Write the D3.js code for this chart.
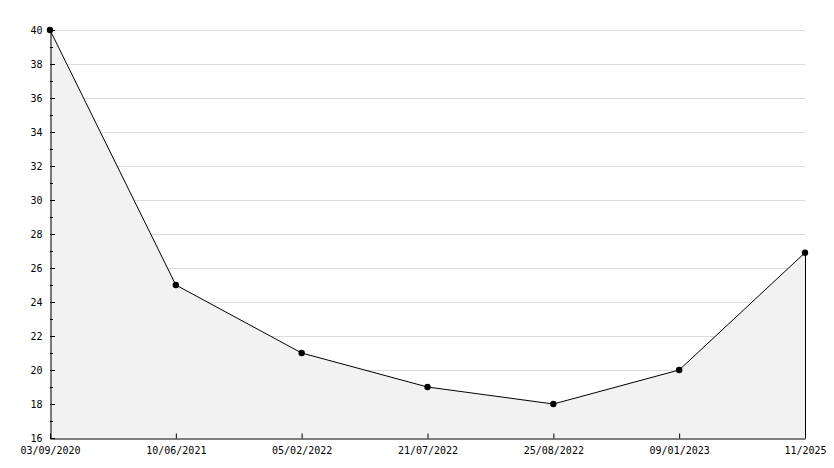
<!DOCTYPE html>
<html>
<head>
<meta charset="utf-8">
<script src="https://cdn.jsdelivr.net/npm/d3@7"></script>
<style>
  body { margin: 0; background: #fff; }
  text { font-family: "DejaVu Sans Mono", monospace; font-size: 10px; fill: #000; }
</style>
</head>
<body>
<div id="chart"></div>
<script>
var dates = ["03/09/2020", "10/06/2021", "05/02/2022", "21/07/2022", "25/08/2022", "09/01/2023", "11/2025"];
var values = [40, 25, 21, 19, 18, 20, 26.9];
var yMajor = [16, 18, 20, 22, 24, 26, 28, 30, 32, 34, 36, 38, 40];
var yMinor = [17, 19, 21, 23, 25, 27, 29, 31, 33, 35, 37, 39];

var margin = {top: 30, right: 29, bottom: 30, left: 50},
    width = 834 - margin.left - margin.right,
    height = 468 - margin.top - margin.bottom;

var svg = d3.select("#chart")
  .append("svg")
    .attr("width", 834)
    .attr("height", 468)
  .append("g")
    .attr("transform", "translate(" + margin.left + "," + margin.top + ")");

var x = d3.scalePoint()
    .domain(dates)
    .range([0, width]);

var y = d3.scaleLinear()
    .domain([16, 40])
    .range([height, 0]);

// grid lines
svg.append("g")
  .selectAll("line")
  .data(yMajor.filter(d => d > 16))
  .enter()
  .append("line")
    .attr("x1", 0)
    .attr("x2", width)
    .attr("y1", d => Math.round(y(d)) + 0.5)
    .attr("y2", d => Math.round(y(d)) + 0.5)
    .attr("stroke", "#dcdcdc")
    .attr("stroke-width", 1);

var data = dates.map((d, i) => ({date: d, value: values[i]}));

// area
var area = d3.area()
    .x(d => x(d.date))
    .y0(y(16))
    .y1(d => y(d.value));

svg.append("path")
    .datum(data)
    .attr("d", area)
    .attr("fill", "#f2f2f2");

// line
var line = d3.line()
    .x(d => x(d.date))
    .y(d => y(d.value));

svg.append("path")
    .datum(data)
    .attr("d", line)
    .attr("fill", "none")
    .attr("stroke", "#000")
    .attr("stroke-width", 1);

// right edge of area
svg.append("line")
    .attr("x1", x(dates[dates.length - 1]) + 0.5)
    .attr("x2", x(dates[dates.length - 1]) + 0.5)
    .attr("y1", y(values[values.length - 1]))
    .attr("y2", height)
    .attr("stroke", "#000");

// y axis
var yAxis = svg.append("g")
    .attr("transform", "translate(0.5,0)")
    .call(d3.axisLeft(y).tickValues(yMajor).tickSize(0).tickPadding(8).tickFormat(d3.format("d")));
yAxis.select(".domain").attr("stroke", "#000");
yAxis.selectAll("text").style("font-family", "DejaVu Sans Mono").style("font-size", "10px");

// inward major and minor ticks
svg.append("g")
  .selectAll("line")
  .data(yMajor)
  .enter()
  .append("line")
    .attr("x1", 0)
    .attr("x2", 5)
    .attr("y1", d => Math.round(y(d)) + 0.5)
    .attr("y2", d => Math.round(y(d)) + 0.5)
    .attr("stroke", "#000");

svg.append("g")
  .selectAll("line")
  .data(yMinor)
  .enter()
  .append("line")
    .attr("x1", 0)
    .attr("x2", 3)
    .attr("y1", d => Math.round(y(d)) + 0.5)
    .attr("y2", d => Math.round(y(d)) + 0.5)
    .attr("stroke", "#000");

// x axis
var xAxis = svg.append("g")
    .attr("transform", "translate(0," + (height + 0.5) + ")")
    .call(d3.axisBottom(x).tickSize(-5).tickPadding(8).tickSizeOuter(0));
xAxis.select(".domain").attr("stroke", "#000");
xAxis.selectAll(".tick line").attr("stroke", "#000");
xAxis.selectAll("text").style("font-family", "DejaVu Sans Mono").style("font-size", "10px");

// dots
svg.append("g")
  .selectAll("circle")
  .data(data)
  .enter()
  .append("circle")
    .attr("cx", d => x(d.date))
    .attr("cy", d => y(d.value))
    .attr("r", 3.2)
    .attr("fill", "#000");
</script>
</body>
</html>
